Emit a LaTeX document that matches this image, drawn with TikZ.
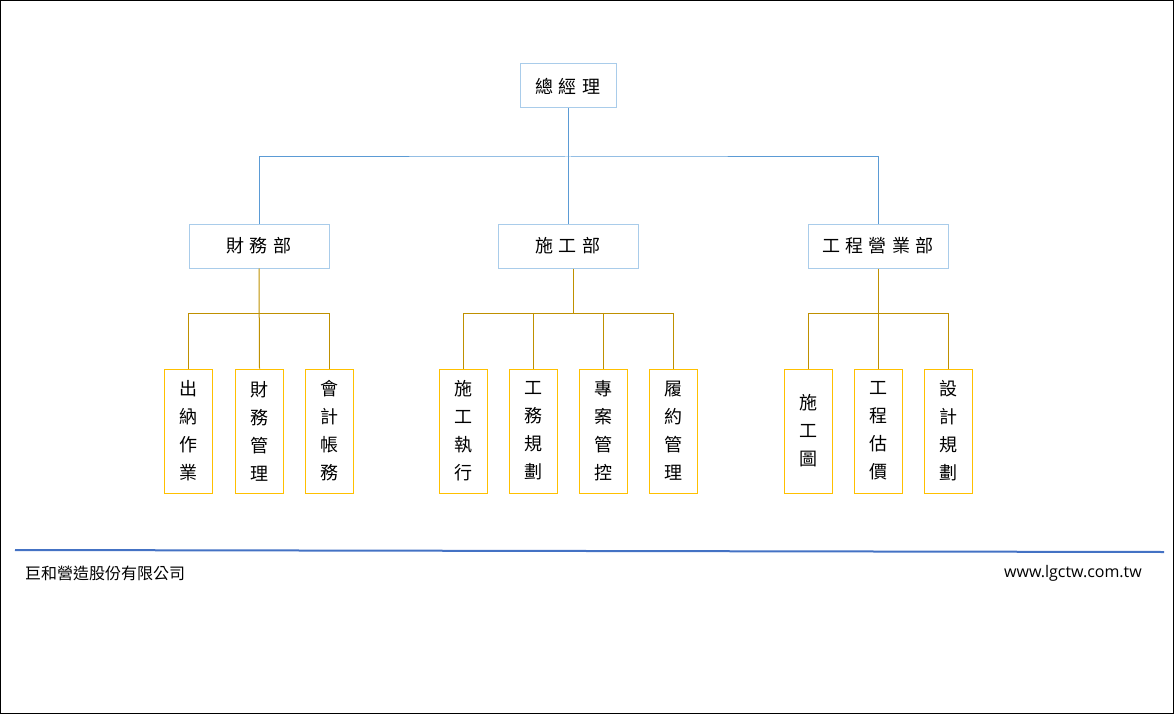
\documentclass[tikz,border=0pt]{standalone}
\usepackage{fontspec}
\newfontfamily\cjk[LetterSpace=30]{Noto Sans CJK TC}
\newfontfamily\cjkv{Noto Sans CJK TC}
\newfontfamily\latin{Open Sans}
\definecolor{boxblue}{HTML}{A9CCEA}
\definecolor{lineblue}{HTML}{5B9BD5}
\definecolor{linegold}{HTML}{BF9000}
\definecolor{boxgold}{HTML}{FFC000}
\definecolor{footblue}{HTML}{4472C4}
\begin{document}
\begin{tikzpicture}[x=1pt,y=-1pt,
  topbox/.style={draw=boxblue,line width=1pt,minimum width=140pt,minimum height=44pt,inner sep=0pt,font=\cjk\fontsize{18}{20}\selectfont},
  leafbox/.style={draw=boxgold,line width=1pt,minimum width=48pt,minimum height=124pt,inner sep=0pt,align=center,font=\cjkv\fontsize{18}{28}\selectfont},
  bconn/.style={draw=lineblue,line width=1pt},
  gconn/.style={draw=linegold,line width=1pt}]
\useasboundingbox (0,0) rectangle (1174,714);
\draw[black,line width=1pt] (0.5,0.5) rectangle (1173.5,713.5);
% top level
\node[topbox,minimum width=96pt] (gm) at (568,86) {總經理};
\node[topbox] (fin) at (259,246) {財務部};
\node[topbox] (con) at (568,246) {施工部};
\node[topbox] (eng) at (878,246) {工程營業部};
\coordinate (bus) at (568,157);
\draw[bconn] (gm.south) -- (con.north);
\draw[bconn] (fin.north) |- (bus) -| (eng.north);
% leaves
\node[leafbox] (f1) at (188.5,431) {出\\納\\作\\業};
\node[leafbox] (f2) at (259.5,431) {財\\務\\管\\理};
\node[leafbox] (f3) at (329.5,431) {會\\計\\帳\\務};
\node[leafbox] (c1) at (463.3,431) {施\\工\\執\\行};
\node[leafbox] (c2) at (533.3,431) {工\\務\\規\\劃};
\node[leafbox] (c3) at (603.3,431) {專\\案\\管\\控};
\node[leafbox] (c4) at (673.3,431) {履\\約\\管\\理};
\node[leafbox] (e1) at (808,431) {施\\工\\圖};
\node[leafbox] (e2) at (878,431) {工\\程\\估\\價};
\node[leafbox] (e3) at (948,431) {設\\計\\規\\劃};
% finance connectors
\coordinate (fb) at (259,313.3);
\draw[gconn] (fin.south) -- (f2.north);
\draw[gconn] (f1.north) |- (fb) -| (f3.north);
% construction connectors
\coordinate (cb) at (573.3,313.3);
\draw[gconn] (con.south -| cb) -- (cb);
\draw[gconn] (c1.north) |- (cb) -| (c4.north);
\draw[gconn] (c2.north) -- (c2.north |- cb);
\draw[gconn] (c3.north) -- (c3.north |- cb);
% engineering connectors
\coordinate (eb) at (878,313.3);
\draw[gconn] (eng.south) -- (e2.north);
\draw[gconn] (e1.north) |- (eb) -| (e3.north);
% footer
\coordinate (fl) at (15,550);
\coordinate (fr) at (1164,552);
\draw[footblue,line width=2pt] (fl) -- (fr);
\node[anchor=west,inner sep=0pt,font=\cjkv\fontsize{16}{18}\selectfont] (co) at (25,573.5) {巨和營造股份有限公司};
\node[anchor=east,inner sep=0pt,font=\latin\fontsize{16}{18}\selectfont] (web) at (1142,573.5) {www.lgctw.com.tw};
\end{tikzpicture}
\end{document}
